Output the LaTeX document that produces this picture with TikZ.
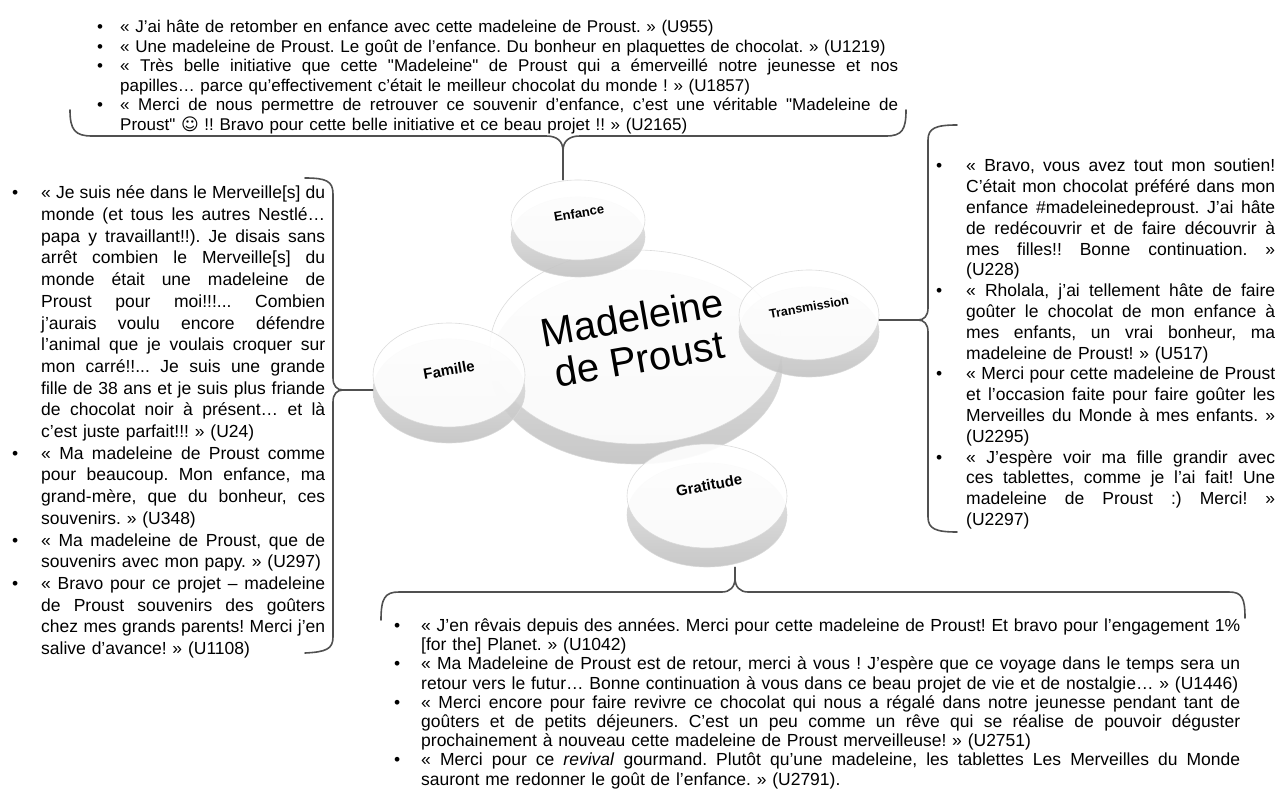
\documentclass[tikz,border=0pt]{standalone}
\usepackage{fontspec}
\setmainfont{Liberation Sans}
\newfontfamily\plainfont{Liberation Sans}
\newfontfamily\smileyfont{DejaVu Sans}
\usepackage{xcolor}
\definecolor{braceLine}{HTML}{505050}
\definecolor{rimLight} {HTML}{E6E6E6}
\definecolor{rimDark}  {HTML}{C2C2C2}
\definecolor{faceEdge} {HTML}{E4E4E4}
\definecolor{discLine} {HTML}{D8D8D8}
\usetikzlibrary{shapes.geometric}

\pgfdeclareradialshading{disctop}{\pgfpoint{0bp}{0bp}}%
  {color(0bp)=(white); color(30bp)=(white); color(50bp)=(faceEdge)}

\newcommand{\bodyfont}{\fontsize{17.5pt}{20.8pt}\selectfont\frenchspacing}
\newcommand{\dq}{{\plainfont"}}
% one full, justified line of a quote, and a last (ragged) line
\newcommand{\jl}[1]{\makebox[\linewidth][s]{%
  \spaceskip=0.278em plus 1fil minus 0.08em\relax\xspaceskip=\spaceskip #1}}
\newcommand{\rl}[1]{\makebox[\linewidth][l]{#1}}
\newenvironment{quotelist}[1]{%
  \setlength{\linewidth}{\hsize}%
  \begin{list}{\textbullet}{%
    \setlength{\leftmargin}{#1}\setlength{\labelwidth}{#1}%
    \setlength{\labelsep}{0pt}\setlength{\topsep}{0pt}%
    \setlength{\partopsep}{0pt}\setlength{\itemsep}{0pt}%
    \setlength{\parsep}{0pt}\renewcommand{\makelabel}[1]{##1\hfil}}}%
  {\end{list}}

\begin{document}
\begin{tikzpicture}[x=1pt, y=-1pt,
    face/.style={ellipse, inner sep=0pt, shade, shading=disctop,
                 draw=discLine, line width=0.6pt, opacity=0.9},
    rim/.style={ellipse, inner sep=0pt, top color=rimLight, bottom color=rimDark,
                draw=discLine, line width=0.6pt, opacity=0.9},
    lbl/.style={font=\bfseries\fontsize{14pt}{16pt}\selectfont, rotate=10, inner sep=0pt},
    biglbl/.style={font=\fontsize{40pt}{42pt}\selectfont, align=center, rotate=10, inner sep=0pt},
    block/.style={anchor=north west, inner sep=0pt, font=\bodyfont},
    cbrace/.style={draw=braceLine, line width=1.6pt, line cap=round, line join=round}
]
\useasboundingbox (0,0) rectangle (1279,794);

% Centre disc
\node[rim,  minimum width=292, minimum height=194] (mdp-rim) at (636,367) {};
\node[face, minimum width=292, minimum height=194] (mdp) at (636,347) {};
% Four theme discs round it
\node[rim,  minimum width=152, minimum height=104] (fam-rim) at (449,391) {};
\node[face, minimum width=152, minimum height=104] (fam) at (449,375) {};
\node[rim,  minimum width=134, minimum height=80] (enf-rim) at (578,237) {};
\node[face, minimum width=134, minimum height=80] (enf) at (578,220) {};
\node[rim,  minimum width=140, minimum height=90] (trans-rim) at (809,332) {};
\node[face, minimum width=140, minimum height=90] (trans) at (809,315) {};
\node[rim,  minimum width=160, minimum height=104] (grat-rim) at (707,515) {};
\node[face, minimum width=160, minimum height=104] (grat) at (707,496) {};
% Disc labels
\node[biglbl] (mdp-lbl) at (636,338) {Madeleine\\de Proust};
\node[lbl, font=\bfseries\fontsize{13pt}{15pt}\selectfont] (enf-lbl) at (579,213) {Enfance};
\node[lbl, font=\bfseries\fontsize{12.5pt}{15pt}\selectfont] (trans-lbl) at (809,307) {Transmission};
\node[lbl, font=\bfseries\fontsize{15pt}{17pt}\selectfont] (fam-lbl) at (449,370) {Famille};
\node[lbl, font=\bfseries\fontsize{15pt}{17pt}\selectfont] (grat-lbl) at (709,485) {Gratitude};

% Quotes above: Enfance
\node[block, text width=801, font=\fontsize{17pt}{19.5pt}\selectfont\frenchspacing] (enf-quotes) at (97,13) {%
\begin{quotelist}{23pt}
\item \rl{« J'ai hâte de retomber en enfance avec cette madeleine de Proust. » (U955)}
\item \rl{« Une madeleine de Proust. Le goût de l'enfance. Du bonheur en plaquettes de chocolat. » (U1219)}
\item \jl{« Très belle initiative que cette \dq Madeleine\dq{} de Proust qui a émerveillé notre jeunesse et nos}\\
      \rl{papilles… parce qu'effectivement c'était le meilleur chocolat du monde ! » (U1857)}
\item \jl{« Merci de nous permettre de retrouver ce souvenir d'enfance, c'est une véritable \dq Madeleine de}\\
      \rl{Proust\dq{} {\smileyfont ☺} !! Bravo pour cette belle initiative et ce beau projet !! » (U2165)}
\end{quotelist}};

% Quotes on the left: Famille
\node[block, text width=313, font=\fontsize{17.5pt}{21.7pt}\selectfont\frenchspacing] (fam-quotes) at (12,177) {%
\begin{quotelist}{29pt}
\item \jl{« Je suis née dans le Merveille[s] du}\\
      \jl{monde (et tous les autres Nestlé…}\\
      \jl{papa y travaillant!!). Je disais sans}\\
      \jl{arrêt combien le Merveille[s] du}\\
      \jl{monde était une madeleine de}\\
      \jl{Proust pour moi!!!... Combien}\\
      \jl{j'aurais voulu encore défendre}\\
      \jl{l'animal que je voulais croquer sur}\\
      \jl{mon carré!!... Je suis une grande}\\
      \jl{fille de 38 ans et je suis plus friande}\\
      \jl{de chocolat noir à présent… et là}\\
      \rl{c'est juste parfait!!! » (U24)}
\item \jl{« Ma madeleine de Proust comme}\\
      \jl{pour beaucoup. Mon enfance, ma}\\
      \jl{grand-mère, que du bonheur, ces}\\
      \rl{souvenirs. » (U348)}
\item \jl{« Ma madeleine de Proust, que de}\\
      \rl{souvenirs avec mon papy. » (U297)}
\item \jl{« Bravo pour ce projet – madeleine}\\
      \jl{de Proust souvenirs des goûters}\\
      \jl{chez mes grands parents! Merci j'en}\\
      \rl{salive d'avance! » (U1108)}
\end{quotelist}};

% Quotes on the right: Transmission
\node[block, text width=339] (trans-quotes) at (936,151) {%
\begin{quotelist}{30pt}
\item \jl{« Bravo, vous avez tout mon soutien!}\\
      \jl{C'était mon chocolat préféré dans mon}\\
      \jl{enfance \#madeleinedeproust. J'ai hâte}\\
      \jl{de redécouvrir et de faire découvrir à}\\
      \jl{mes filles!! Bonne continuation. »}\\
      \rl{(U228)}
\item \jl{« Rholala, j'ai tellement hâte de faire}\\
      \jl{goûter le chocolat de mon enfance à}\\
      \jl{mes enfants, un vrai bonheur, ma}\\
      \rl{madeleine de Proust! » (U517)}
\item \jl{« Merci pour cette madeleine de Proust}\\
      \jl{et l'occasion faite pour faire goûter les}\\
      \jl{Merveilles du Monde à mes enfants. »}\\
      \rl{(U2295)}
\item \jl{« J'espère voir ma fille grandir avec}\\
      \jl{ces tablettes, comme je l'ai fait! Une}\\
      \jl{madeleine de Proust :) Merci! »}\\
      \rl{(U2297)}
\end{quotelist}};

% Quotes below: Gratitude
\node[block, text width=846, font=\fontsize{17.5pt}{19.2pt}\selectfont\frenchspacing] (grat-quotes) at (394,612) {%
\begin{quotelist}{27pt}
\item \jl{« J'en rêvais depuis des années. Merci pour cette madeleine de Proust! Et bravo pour l'engagement 1\%}\\
      \rl{[for the] Planet. » (U1042)}
\item \jl{« Ma Madeleine de Proust est de retour, merci à vous ! J'espère que ce voyage dans le temps sera un}\\
      \rl{retour vers le futur… Bonne continuation à vous dans ce beau projet de vie et de nostalgie… » (U1446)}
\item \jl{« Merci encore pour faire revivre ce chocolat qui nous a régalé dans notre jeunesse pendant tant de}\\
      \jl{goûters et de petits déjeuners. C'est un peu comme un rêve qui se réalise de pouvoir déguster}\\
      \rl{prochainement à nouveau cette madeleine de Proust merveilleuse! » (U2751)}
\item \jl{« Merci pour ce \textit{revival} gourmand. Plutôt qu'une madeleine, les tablettes Les Merveilles du Monde}\\
      \rl{sauront me redonner le goût de l'enfance. » (U2791).}
\end{quotelist}};

% Braces, each with its stem to a disc
\coordinate (top-tip) at (563,151);
\draw[cbrace] (70,110) .. controls (70,130) and (75,136) .. (92,136)
  -- (546,136) .. controls (557,136) and (563,141) .. (top-tip)
  .. controls (563,141) and (569,136) .. (580,136)
  -- (886,136) .. controls (902,136) and (906,130) .. (906,110);
\draw[cbrace] (top-tip) -- (top-tip |- enf.north);

\coordinate (left-tip) at (343,390);
\draw[cbrace] (305,178) .. controls (326,178) and (333,181) .. (333,194)
  -- (333,378) .. controls (333,386) and (337,390) .. (left-tip)
  .. controls (337,390) and (333,394) .. (333,402)
  -- (333,637) .. controls (333,649) and (326,652) .. (305,653);
\draw[cbrace] (left-tip) -- (left-tip -| fam.west);

\coordinate (right-tip) at (918,320);
\draw[cbrace] (957,125) .. controls (936,125) and (928,128) .. (928,140)
  -- (928,308) .. controls (928,316) and (924,320) .. (right-tip)
  .. controls (924,320) and (928,324) .. (928,332)
  -- (928,517) .. controls (928,529) and (936,532) .. (957,532);
\draw[cbrace] (right-tip) -- (right-tip -| trans.east);

\coordinate (bot-tip) at (735,578);
\draw[cbrace] (381,620) .. controls (381,598) and (385,592) .. (399,592)
  -- (722,592) .. controls (730,592) and (735,587) .. (bot-tip)
  .. controls (735,587) and (740,592) .. (748,592)
  -- (1229,592) .. controls (1242,592) and (1245,598) .. (1245,618);
\draw[cbrace] (bot-tip) -- (bot-tip |- grat-rim.south);
\end{tikzpicture}
\end{document}
